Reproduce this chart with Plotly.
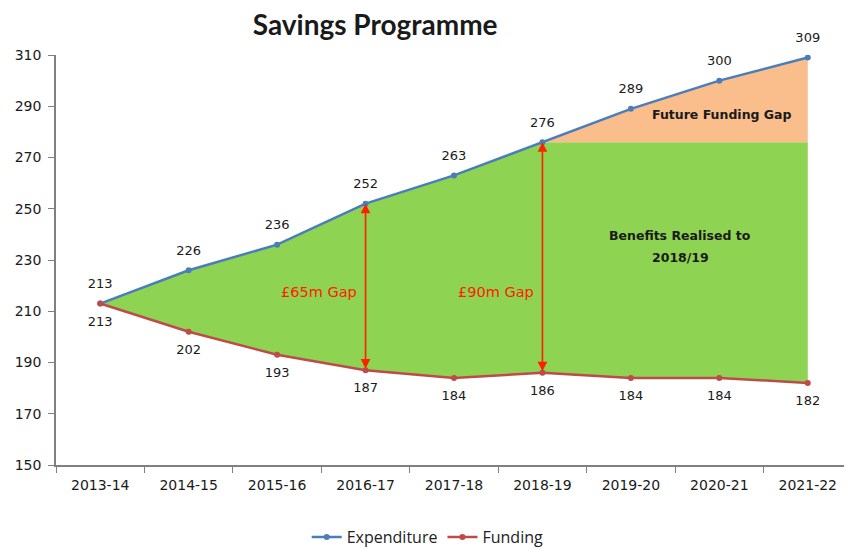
import plotly.graph_objects as go

years = ["2013-14", "2014-15", "2015-16", "2016-17", "2017-18",
         "2018-19", "2019-20", "2020-21", "2021-22"]
expenditure = [213, 226, 236, 252, 263, 276, 289, 300, 309]
funding = [213, 202, 193, 187, 184, 186, 184, 184, 182]
realised_year_index = 5  # benefits realised to 2018/19
gap_labels = {"2016-17": "£65m Gap", "2018-19": "£90m Gap"}

realised_level = expenditure[realised_year_index]
green_top = [e if i <= realised_year_index else realised_level
             for i, e in enumerate(expenditure)]

TITLE_FONT = "Lato, 'Open Sans', sans-serif"
FONT = "'DejaVu Sans', sans-serif"
BLUE = "#4A7EBB"
RED = "#BE4B48"
TXT = "#1a1a1a"

fig = go.Figure()

# base (funding) for fill
fig.add_trace(go.Scatter(x=years, y=funding, mode="lines",
                         line=dict(width=0), showlegend=False, hoverinfo="skip"))
# green area: benefits realised
fig.add_trace(go.Scatter(x=years, y=green_top, mode="lines", fill="tonexty",
                         fillcolor="#8FD352", line=dict(width=0),
                         showlegend=False, hoverinfo="skip"))
# orange area: future funding gap
fig.add_trace(go.Scatter(x=years, y=expenditure, mode="lines", fill="tonexty",
                         fillcolor="#F9BE8C", line=dict(width=0),
                         showlegend=False, hoverinfo="skip"))

# lines
fig.add_trace(go.Scatter(x=years, y=expenditure, mode="lines+markers",
                         name="Expenditure",
                         line=dict(color=BLUE, width=2.5),
                         marker=dict(color=BLUE, size=6)))
fig.add_trace(go.Scatter(x=years, y=funding, mode="lines+markers",
                         name="Funding",
                         line=dict(color=RED, width=2.5),
                         marker=dict(color=RED, size=6)))

# data labels (invisible large markers give extra offset)
fig.add_trace(go.Scatter(x=years, y=expenditure, mode="markers+text",
                         marker=dict(size=18, color="rgba(0,0,0,0)"),
                         text=[str(v) for v in expenditure],
                         textposition="top center", showlegend=False,
                         hoverinfo="skip", cliponaxis=False,
                         textfont=dict(family=FONT, size=13, color=TXT)))
fig.add_trace(go.Scatter(x=years, y=funding, mode="markers+text",
                         marker=dict(size=18, color="rgba(0,0,0,0)"),
                         text=[str(v) for v in funding],
                         textposition="bottom center", showlegend=False,
                         hoverinfo="skip", cliponaxis=False,
                         textfont=dict(family=FONT, size=13, color=TXT)))

annotations = []
for yr, label in gap_labels.items():
    i = years.index(yr)
    annotations.append(dict(x=i, y=expenditure[i], ax=i, ay=funding[i],
                            xref="x", yref="y", axref="x", ayref="y",
                            showarrow=True, arrowside="end+start",
                            arrowhead=2, arrowsize=1.2, arrowwidth=1.6,
                            arrowcolor="#FF2000", text=""))
    annotations.append(dict(x=i - 0.53, y=217.5,
                            xref="x", yref="y", text=label, showarrow=False,
                            font=dict(family=FONT, size=14.5, color="#FF2000")))

annotations.append(dict(x=7.03, y=286.6, xref="x", yref="y",
                        text="<b>Future Funding Gap</b>", showarrow=False,
                        font=dict(family=FONT, size=12.5, color=TXT)))
annotations.append(dict(x=6.56, y=239.5, xref="x", yref="y",
                        text="<b>Benefits Realised to</b>", showarrow=False,
                        font=dict(family=FONT, size=12.5, color=TXT)))
annotations.append(dict(x=6.56, y=231, xref="x", yref="y",
                        text="<b>2018/19</b>", showarrow=False,
                        font=dict(family=FONT, size=12.5, color=TXT)))

# page has an 8px body margin, so the figure is sized/offset to compensate
fig.update_layout(
    width=844, height=540,
    margin=dict(l=48, r=0, t=47, b=83),
    paper_bgcolor="white", plot_bgcolor="white",
    title=dict(text="<b>Savings Programme</b>", x=0.435, xanchor="center",
               y=0.9685, yanchor="middle",
               font=dict(family=TITLE_FONT, size=28, color=TXT)),
    showlegend=True,
    legend=dict(orientation="h", x=0.467, xanchor="center",
                yref="container", y=0.02, yanchor="middle",
                font=dict(family="'Open Sans', sans-serif", size=16, color="#222"),
                traceorder="normal"),
    annotations=annotations,
)
fig.update_xaxes(type="category", categoryorder="array", categoryarray=years,
                 range=[-0.5, 8.5], showgrid=False, showline=True,
                 linecolor="#808080", linewidth=1.5, ticks="outside",
                 tickson="boundaries", ticklen=6, tickcolor="#808080",
                 ticklabelstandoff=6,
                 tickfont=dict(family=FONT, size=14, color=TXT))
fig.update_yaxes(range=[150, 310], tick0=150, dtick=20, showgrid=False,
                 showline=True, linecolor="#808080", linewidth=1.5,
                 ticks="outside", ticklen=6, tickcolor="#808080",
                 zeroline=False, ticklabelstandoff=4,
                 tickfont=dict(family=FONT, size=14, color=TXT))

fig.write_html("out.html")
